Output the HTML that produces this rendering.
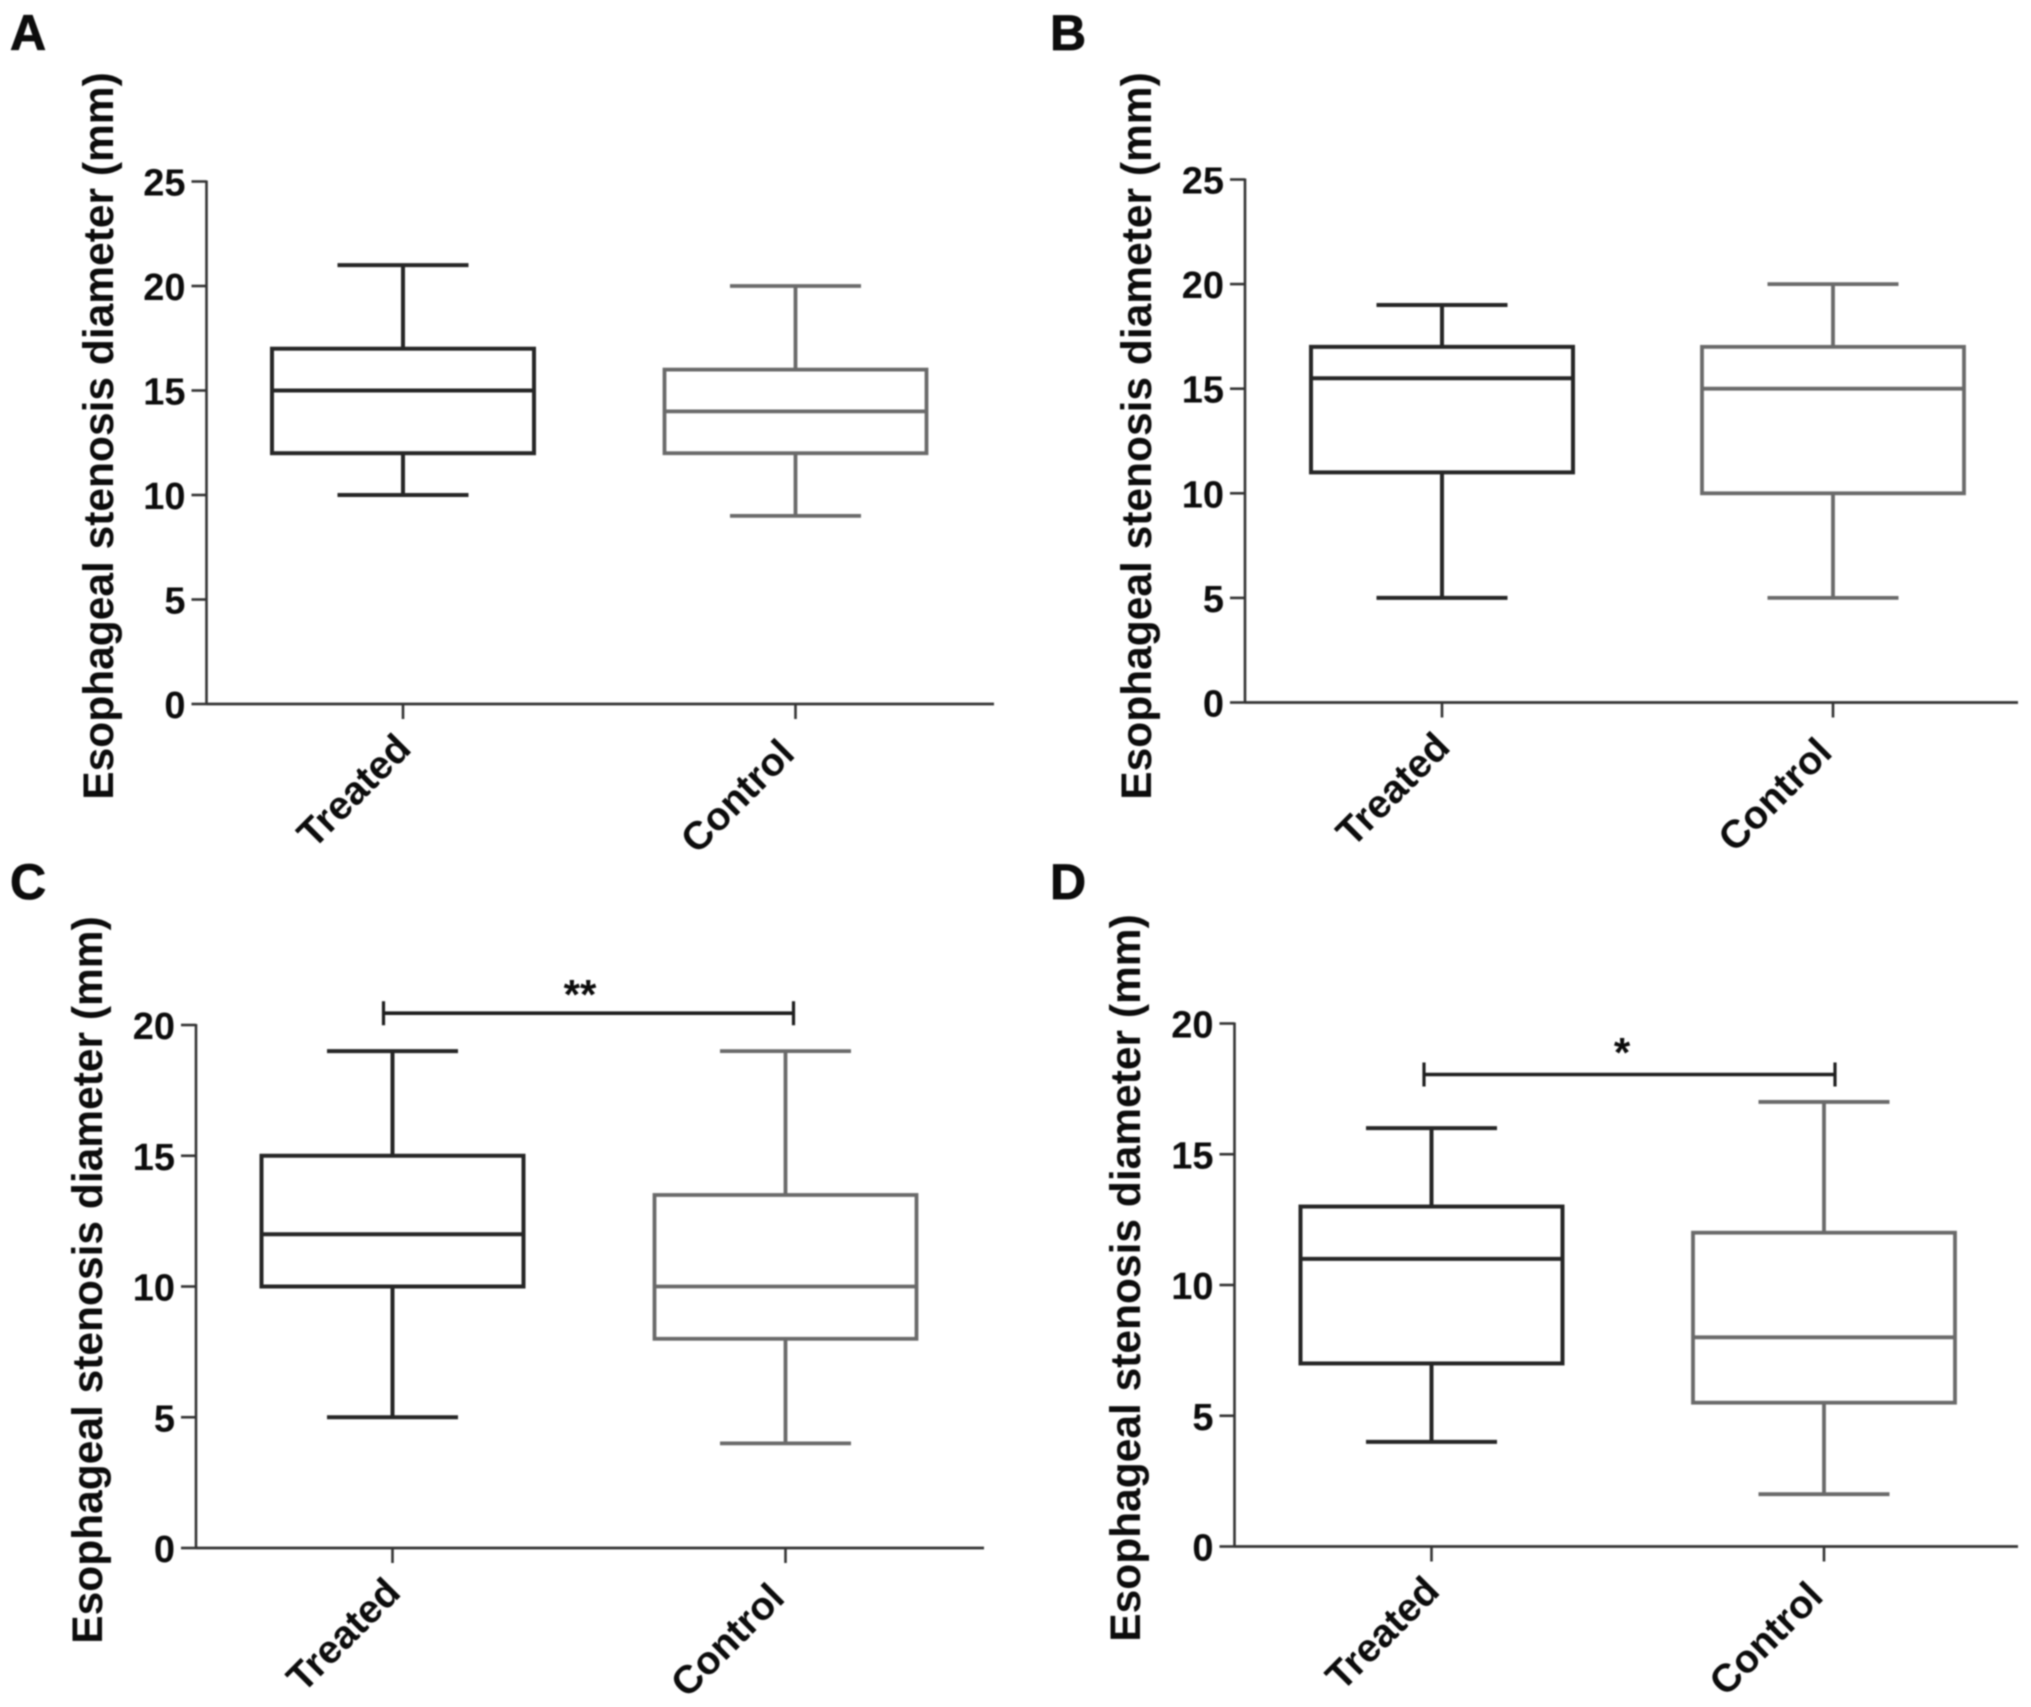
<!DOCTYPE html>
<html lang="en">
<head>
<meta charset="utf-8">
<title>Esophageal stenosis diameter box plots</title>
<style>
  html, body { margin: 0; padding: 0; background: #fff; }
  body { width: 2031px; height: 1707px; overflow: hidden; }
  svg { display: block; filter: blur(0.8px); }
  text { font-family: "Liberation Sans", Arial, sans-serif; font-weight: bold; fill: #0c0c0c; }
  .panel-letter { font-size: 50px; stroke: #0c0c0c; stroke-width: 0.8px; }
  .y-title { font-size: 42.5px; text-anchor: middle; }
  .tick-label { font-size: 38px; text-anchor: end; }
  .cat-label { font-size: 39.5px; text-anchor: end; }
  .sig { font-size: 42px; text-anchor: middle; }
</style>
</head>
<body>
<svg id="figure" xmlns="http://www.w3.org/2000/svg" width="2031" height="1707" viewBox="0 0 2031 1707">
  <rect width="2031" height="1707" fill="#fff"/>

  <g id="panel-a">
    <text class="panel-letter" x="10" y="50">A</text>
    <text class="y-title" transform="translate(113,436) rotate(-90)">Esophageal stenosis diameter (mm)</text>
  </g>
  <g id="panel-b">
    <text class="panel-letter" x="1050" y="50">B</text>
    <text class="y-title" transform="translate(1151,436) rotate(-90)">Esophageal stenosis diameter (mm)</text>
  </g>
  <g id="panel-c">
    <text class="panel-letter" x="10" y="899">C</text>
    <text class="y-title" transform="translate(102,1280) rotate(-90)">Esophageal stenosis diameter (mm)</text>
    <text class="sig" x="580" y="1009">**</text>
  </g>
  <g id="panel-d">
    <text class="panel-letter" x="1050" y="899">D</text>
    <text class="y-title" transform="translate(1140,1278) rotate(-90)">Esophageal stenosis diameter (mm)</text>
    <text class="sig" x="1622" y="1067">*</text>
  </g>
</svg>

<script>
// Category labels
const categories = ['Treated', 'Control'];

// Tick labels
const ticksAB = [0, 5, 10, 15, 20, 25];
const ticksCD = [0, 5, 10, 15, 20];

// Panel A values [Treated, Control]
const aLow = [10, 9];
const aQ1 = [12, 12];
const aMedian = [15, 14];
const aQ3 = [17, 16];
const aHigh = [21, 20];

// Panel B values
const bLow = [5, 5];
const bQ1 = [11, 10];
const bMedian = [15.5, 15];
const bQ3 = [17, 17];
const bHigh = [19, 20];

// Panel C values
const cLow = [5, 4];
const cQ1 = [10, 8];
const cMedian = [12, 10];
const cQ3 = [15, 13.5];
const cHigh = [19, 19];

// Panel D values
const dLow = [4, 2];
const dQ1 = [7, 5.5];
const dMedian = [11, 8];
const dQ3 = [13, 12];
const dHigh = [16, 17];

// Significance bracket heights, in axis units
const cBracket = [20.45];
const dBracket = [18.05];

const SVG_NS = 'http://www.w3.org/2000/svg';
const seriesColors = ['#262626', '#6a6a6a'];
const AXIS_COLOR = '#333333';

function shape(parent, tag, attrs) {
  const el = document.createElementNS(SVG_NS, tag);
  for (const k in attrs) el.setAttribute(k, attrs[k]);
  parent.appendChild(el);
  return el;
}

function line(parent, x1, y1, x2, y2, stroke, width) {
  return shape(parent, 'line', { x1: x1, y1: y1, x2: x2, y2: y2, stroke: stroke, 'stroke-width': width });
}

function drawPanel(opt) {
  const root = document.getElementById('panel-' + opt.id);
  const top = opt.ticks[opt.ticks.length - 1];
  const yScale = function (v) { return opt.y0 - (v / top) * (opt.y0 - opt.yTop); };
  const xScale = function (i) { return opt.cx0 + i * opt.step; };

  const yAxis = line(root, opt.axisX, opt.yTop - 1, opt.axisX, opt.y0 + 1, AXIS_COLOR, 2.6);
  
  

  const xAxis = line(root, opt.axisX, opt.y0, opt.xEnd, opt.y0, AXIS_COLOR, 2.8);
  
  

  opt.ticks.forEach(function (t) {
    const y = yScale(t);
    const tick = line(root, opt.axisX - 15, y, opt.axisX, y, AXIS_COLOR, 2.6);
    
    

    const label = shape(root, 'text', { x: opt.axisX - 21, y: y + 14, 'class': 'tick-label' });
    label.textContent = String(t);
    
    
  });

  categories.forEach(function (name, i) {
    const cx = xScale(i);
    const color = seriesColors[i];
    const key = 'panel-' + opt.id + '-' + name.toLowerCase();
    const sw = i === 0 ? 4 : 3.8;
    const boxHalf = 131;
    const capHalf = 65.5;
    const labelDx = i === 0 ? 10 : 1;
    const labelDy = i === 0 ? 46.5 : 52;

    const tick = line(root, cx, opt.y0, cx, opt.y0 + 15, AXIS_COLOR, 2.6);
    
    

    const label = shape(root, 'text', { 'class': 'cat-label', transform: 'translate(' + (cx + labelDx) + ',' + (opt.y0 + labelDy) + ') rotate(-45)' });
    label.textContent = name;
    
    

    const upper = line(root, cx, yScale(opt.q3[i]), cx, yScale(opt.high[i]), color, sw);
    
    

    const lower = line(root, cx, yScale(opt.q1[i]), cx, yScale(opt.low[i]), color, sw);
    
    

    const capHigh = line(root, cx - capHalf, yScale(opt.high[i]), cx + capHalf, yScale(opt.high[i]), color, sw);
    
    

    const capLow = line(root, cx - capHalf, yScale(opt.low[i]), cx + capHalf, yScale(opt.low[i]), color, sw);
    
    

    const box = shape(root, 'rect', {
      x: cx - boxHalf,
      y: yScale(opt.q3[i]),
      width: boxHalf * 2,
      height: yScale(opt.q1[i]) - yScale(opt.q3[i]),
      fill: '#fff',
      stroke: color,
      'stroke-width': sw
    });
    
    

    const median = line(root, cx - boxHalf, yScale(opt.median[i]), cx + boxHalf, yScale(opt.median[i]), color, sw);
    
    
  });

  if (opt.bracket) {
    const by = yScale(opt.bracket[0]);
    const bl = xScale(0) + opt.bracketLeft;
    const br = xScale(1) + opt.bracketRight;

    const bar = line(root, bl, by, br, by, '#1e1e1e', 3.6);
    
    

    const leftEnd = line(root, bl, by - 12, bl, by + 12, '#1e1e1e', 3.2);
    
    

    const rightEnd = line(root, br, by - 12, br, by + 12, '#1e1e1e', 3.2);
    
    
  }
}

drawPanel({ id: 'a', axisX: 206.5, xEnd: 994, y0: 704, yTop: 181.5, cx0: 403, step: 392.5, ticks: ticksAB,
  low: aLow, q1: aQ1, median: aMedian, q3: aQ3, high: aHigh });
drawPanel({ id: 'b', axisX: 1245, xEnd: 2018, y0: 702.5, yTop: 179.5, cx0: 1442, step: 391, ticks: ticksAB,
  low: bLow, q1: bQ1, median: bMedian, q3: bQ3, high: bHigh });
drawPanel({ id: 'c', axisX: 196, xEnd: 984, y0: 1548, yTop: 1025, cx0: 392.5, step: 393, ticks: ticksCD,
  low: cLow, q1: cQ1, median: cMedian, q3: cQ3, high: cHigh,
  bracket: cBracket, bracketLeft: -9, bracketRight: 8 });
drawPanel({ id: 'd', axisX: 1234.5, xEnd: 2018, y0: 1546.5, yTop: 1023.5, cx0: 1431.5, step: 392.5, ticks: ticksCD,
  low: dLow, q1: dQ1, median: dMedian, q3: dQ3, high: dHigh,
  bracket: dBracket, bracketLeft: -7.5, bracketRight: 11 });
</script>
</body>
</html>
